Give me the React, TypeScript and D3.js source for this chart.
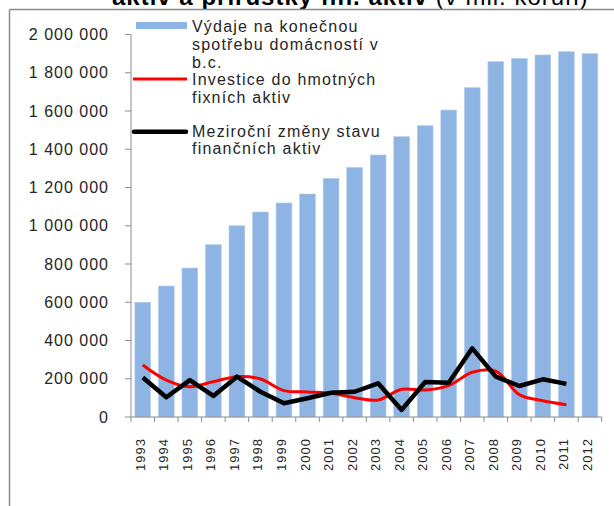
import React from 'react';
import * as d3 from 'd3';

const years = ['1993', '1994', '1995', '1996', '1997', '1998', '1999', '2000', '2001', '2002',
  '2003', '2004', '2005', '2006', '2007', '2008', '2009', '2010', '2011', '2012'];

// Výdaje na konečnou spotřebu domácností v b.c.
const spotreba = [600000, 685000, 779000, 901000, 1000000, 1072000, 1119000, 1166000, 1248000, 1305000,
  1370000, 1466000, 1523000, 1605000, 1722000, 1858000, 1875000, 1893000, 1910000, 1900000];

// Investice do hmotných fixních aktiv
const investice = [272000, 193000, 158000, 185000, 211000, 199000, 138000, 131000, 124000, 101000,
  89000, 145000, 141000, 164000, 234000, 240000, 117000, 85000, 64000];

// Meziroční změny stavu finančních aktiv
const finAktiva = [207000, 103000, 193000, 110000, 211000, 132000, 72000, 98000, 127000, 132000,
  176000, 37000, 183000, 179000, 359000, 211000, 162000, 197000, 173000];

const yTicks = [0, 200000, 400000, 600000, 800000, 1000000, 1200000, 1400000, 1600000, 1800000, 2000000];

const fmt = (v: number) => d3.format(',')(v).replace(/,/g, ' ');

const W = 614;
const H = 506;
const FONT = '"Liberation Sans", Arial, sans-serif';
const TXT = '#262626';
const AXIS = '#8c8c8c';

export default function App() {
  const x = d3.scaleBand<string>().domain(years).range([131, 601.7]).paddingInner(0.33).paddingOuter(0.165);
  const y = d3.scaleLinear().domain([0, 2000000]).range([417, 34.5]);
  const cx = (i: number) => (x(years[i]) as number) + x.bandwidth() / 2;

  const lineStraight = d3.line<number>().x((_, i) => cx(i)).y(d => y(d));
  const lineSmooth = d3.line<number>().x((_, i) => cx(i)).y(d => y(d)).curve(d3.curveCatmullRom.alpha(0.5));

  const step = x.step();

  return (
    <svg width={W} height={H} style={{ position: 'absolute', left: 0, top: 0, background: '#fff' }}
      fontFamily={FONT}>
      {/* title, cut by the top edge */}
      <text x={112} y={5} fontSize={24} letterSpacing={1} fill="#000">
        <tspan fontWeight="bold">aktiv a přírůstky fin. aktiv </tspan>
        <tspan>(v mil. korun)</tspan>
      </text>

      {/* frame */}
      <line x1={9.5} x2={W} y1={9.5} y2={9.5} stroke={AXIS} strokeWidth={1.5} />
      <line x1={9.5} x2={9.5} y1={9.5} y2={H} stroke={AXIS} strokeWidth={1.5} />

      {/* bars */}
      {spotreba.map((v, i) => (
        <rect key={years[i]} x={x(years[i])} y={y(v)} width={x.bandwidth()} height={y(0) - y(v)}
          fill="#8EB4E3" stroke="#B4CDEE" strokeWidth={0.6} />
      ))}

      {/* lines */}
      <path d={lineSmooth(investice) || ''} fill="none" stroke="#FF0000" strokeWidth={3} strokeLinejoin="round" />
      <path d={lineStraight(finAktiva) || ''} fill="none" stroke="#000" strokeWidth={4.5} strokeLinejoin="round" />

      {/* y axis */}
      <line x1={131} x2={131} y1={y(2000000)} y2={y(0)} stroke={AXIS} strokeWidth={1} />
      {yTicks.map(t => (
        <g key={t}>
          <line x1={125} x2={131} y1={y(t)} y2={y(t)} stroke={AXIS} strokeWidth={1} />
          <text x={109} y={y(t)} dy="0.35em" textAnchor="end" fontSize={16} letterSpacing={1} fill={TXT}>
            {fmt(t)}
          </text>
        </g>
      ))}

      {/* x axis */}
      <line x1={131} x2={601.7} y1={y(0)} y2={y(0)} stroke={AXIS} strokeWidth={1} />
      {d3.range(years.length + 1).map(i => (
        <line key={i} x1={131 + i * step} x2={131 + i * step} y1={y(0)} y2={y(0) + 5} stroke={AXIS} strokeWidth={1} />
      ))}
      {years.map((yr, i) => (
        <text key={yr} transform={`translate(${cx(i) + 2},438) rotate(-90)`} textAnchor="end"
          fontSize={13} letterSpacing={1} fill={TXT}>
          {yr}
        </text>
      ))}

      {/* legend */}
      <rect x={136} y={22} width={51} height={7} fill="#8EB4E3" />
      <text x={192} fontSize={16} letterSpacing={1.2} fill={TXT}>
        <tspan x={192} y={31.7}>Výdaje na konečnou</tspan>
        <tspan x={192} y={50}>spotřebu domácností v</tspan>
        <tspan x={192} y={68.3}>b.c.</tspan>
      </text>
      <line x1={133} x2={187} y1={79} y2={79} stroke="#FF0000" strokeWidth={3} />
      <text x={192} fontSize={16} letterSpacing={1.2} fill={TXT}>
        <tspan x={192} y={85}>Investice do hmotných</tspan>
        <tspan x={192} y={103.3}>fixních aktiv</tspan>
      </text>
      <line x1={134} x2={186} y1={131.7} y2={131.7} stroke="#000" strokeWidth={4.5} strokeLinecap="round" />
      <text x={192} fontSize={16} letterSpacing={1.2} fill={TXT}>
        <tspan x={192} y={136.7}>Meziroční změny stavu</tspan>
        <tspan x={192} y={154}>finančních aktiv</tspan>
      </text>
    </svg>
  );
}
